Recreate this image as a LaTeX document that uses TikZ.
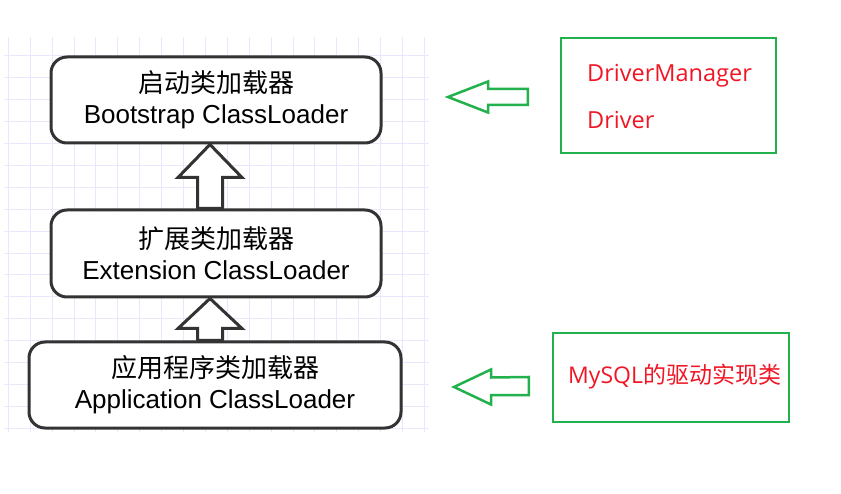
\documentclass[tikz,border=0pt]{standalone}
\usepackage{fontspec}
\setmainfont{Liberation Sans}
\newfontfamily\cjk{Noto Sans CJK SC}
\newfontfamily\redlat{Open Sans}
\usetikzlibrary{calc}
\definecolor{gridc}{RGB}{233,231,251}
\definecolor{boxc}{RGB}{51,51,51}
\definecolor{grn}{RGB}{34,177,76}
\definecolor{redt}{RGB}{240,22,36}
\tikzset{
  loader/.style={draw=boxc, line width=3pt, rounded corners=16pt, fill=white,
    align=center, inner sep=0pt, font=\fontsize{26}{31}\selectfont},
  hollow/.style={draw=boxc, line width=3pt, fill=white, line join=miter},
  gbox/.style={draw=grn, line width=2.5pt, inner sep=0pt},
  garrow/.style={draw=grn, line width=2.5pt, line join=miter},
  redtxt/.style={text=redt, inner sep=0pt, anchor=base west},
  gridline/.style={draw=gridc, line width=1pt}
}
\begin{document}
\begin{tikzpicture}[x=1pt,y=-1pt]
\useasboundingbox (0,0) rectangle (841,494);
% grid
\foreach \i in {0,...,19} \draw[gridline] ({8.3+\i*21.9},37) -- ({8.3+\i*21.9},432);
\foreach \j in {0,...,17} \draw[gridline] (4,{56+\j*21.9}) -- (429,{56+\j*21.9});
% loaders
\node[loader, minimum width=330pt, minimum height=86pt] (boot) at (216,100)
  {{\cjk 启动类加载器}\\Bootstrap ClassLoader};
\node[loader, minimum width=330pt, minimum height=87pt] (ext) at (216,253.5)
  {{\cjk 扩展类加载器}\\Extension ClassLoader};
\node[loader, minimum width=372pt, minimum height=86pt] (app) at (215,385)
  {{\cjk 应用程序类加载器}\\Application ClassLoader};
% hollow up arrows
\coordinate (t1) at ($(boot.south)+(-6,0)$);
\coordinate (r1) at ($(t1)+(12.5,0)$);
\coordinate (l1) at ($(t1)+(-12.5,0)$);
\draw[hollow] (t1) -- ($(t1)+(32,33)$) -- ($(t1)+(12.5,33)$)
  -- (r1 |- ext.north) -- (l1 |- ext.north)
  -- ($(t1)+(-12.5,33)$) -- ($(t1)+(-32,33)$) -- cycle;
\coordinate (t2) at ($(ext.south)+(-6,0)$);
\coordinate (r2) at ($(t2)+(12.5,0)$);
\coordinate (l2) at ($(t2)+(-12.5,0)$);
\draw[hollow] (t2) -- ($(t2)+(32,30)$) -- ($(t2)+(12.5,30)$)
  -- (r2 |- app.north) -- (l2 |- app.north)
  -- ($(t2)+(-12.5,30)$) -- ($(t2)+(-32,30)$) -- cycle;
% green boxes
\node[gbox, minimum width=215pt, minimum height=115pt] (drv) at (668.5,95.5) {};
\node[gbox, minimum width=236pt, minimum height=89pt] (mys) at (671,377.5) {};
\node[redtxt, font=\redlat\fontsize{23.5}{28}\selectfont] (dm) at (587,81.5) {DriverManager};
\node[redtxt, font=\redlat\fontsize{23.5}{28}\selectfont] (dr) at (587,129) {Driver};
\node[redtxt, font=\fontsize{23}{28}\selectfont] (my) at (568,383.5)
  {{\redlat MySQL}{\cjk 的驱动实现类}};
% green hollow left arrows
\coordinate (ga) at (448,97);
\draw[garrow] (ga) -- ++(40,-15.5) -- ++(0,7.5) -- ($(drv.west)+(-32,-6.5)$)
  -- ($(drv.west)+(-32,9.5)$) -- ($(ga)+(40,8)$) -- ($(ga)+(40,15.5)$) -- cycle;
\coordinate (gb) at (454,387);
\draw[garrow] (gb) -- ++(37,-17.5) -- ++(0,8) -- ($(mys.west)+(-23,-0.5)$)
  -- ($(mys.west)+(-23,17.5)$) -- ($(gb)+(37,8)$) -- ($(gb)+(37,17.5)$) -- cycle;
\end{tikzpicture}
\end{document}
